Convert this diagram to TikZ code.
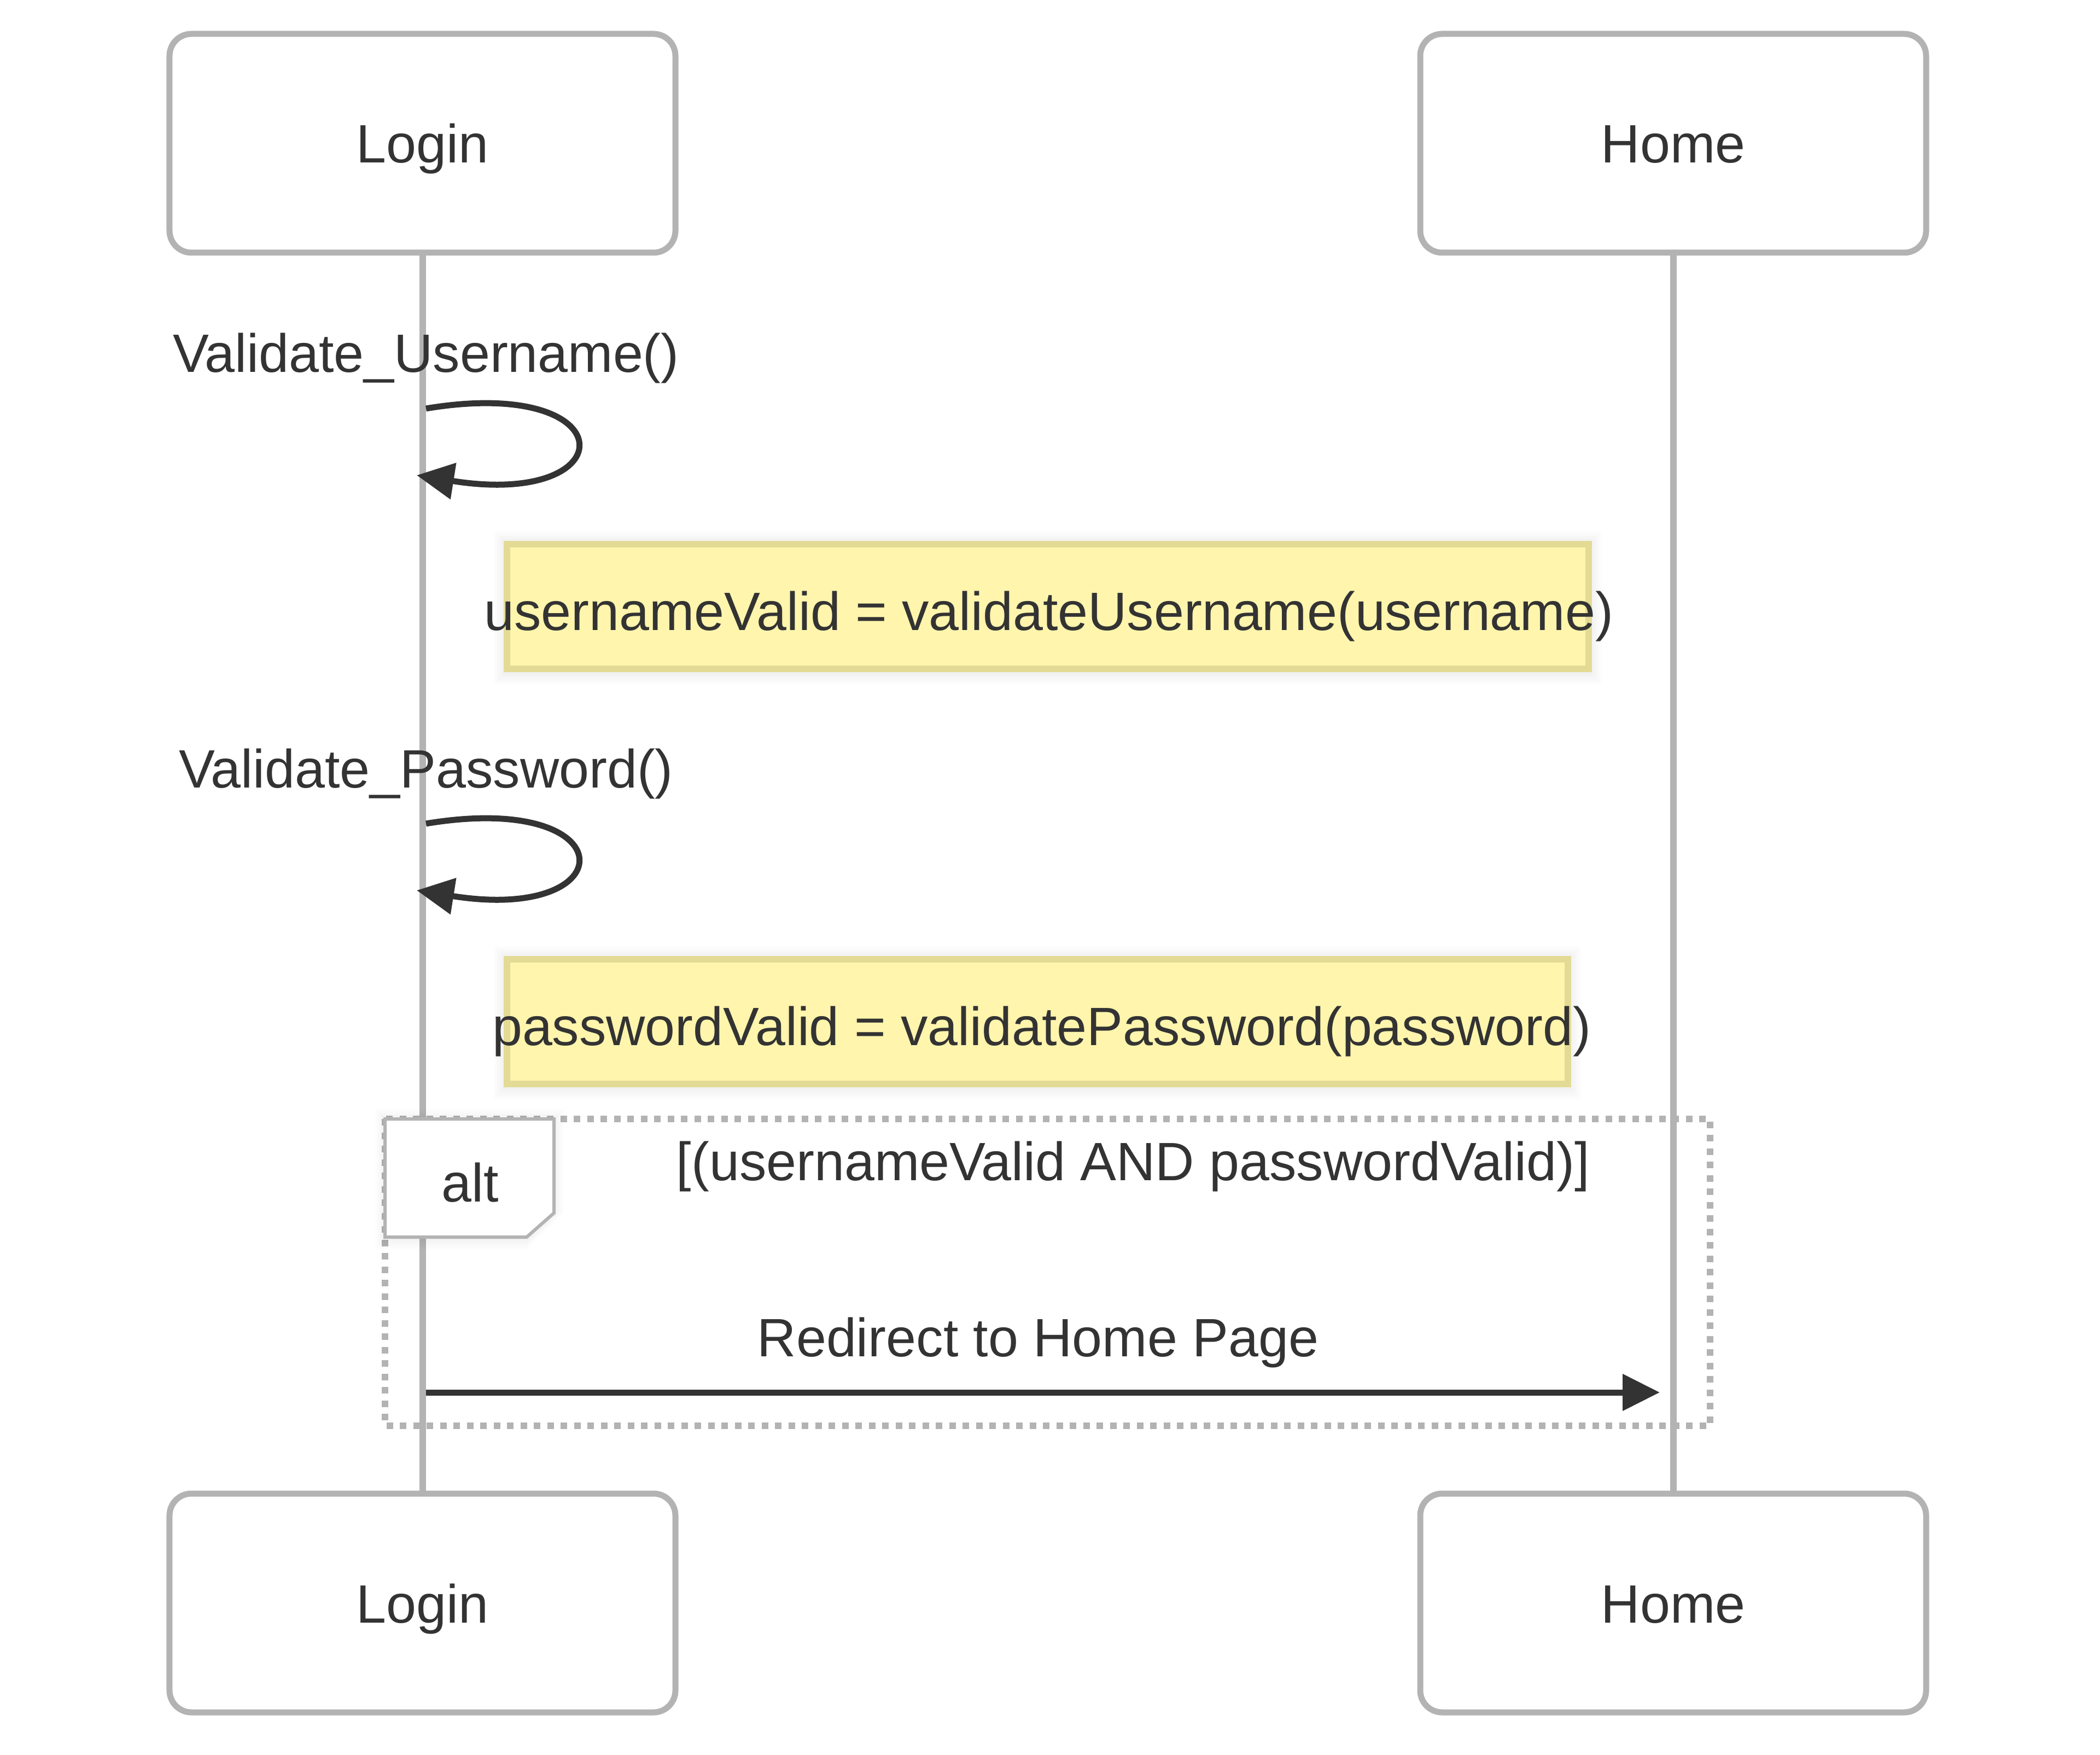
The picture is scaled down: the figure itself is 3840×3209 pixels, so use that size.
\documentclass[tikz,border=0pt]{standalone}
\usepackage{fontspec}
\setmainfont{Liberation Sans}
\usetikzlibrary{arrows.meta}
\definecolor{ink}{HTML}{333333}
\definecolor{rule}{HTML}{B3B3B3}
\definecolor{notefill}{HTML}{FFF5AD}
\definecolor{noteline}{HTML}{E3DB95}
\begin{document}
\begin{tikzpicture}[x=0.2pt,y=0.2pt,
  txt/.style={font=\fontsize{19.75pt}{24pt}\selectfont, text=ink, inner sep=0pt, anchor=base},
  actorbox/.style={draw=rule, line width=2.2pt, rounded corners=8pt, fill=white,
    minimum width=185pt, minimum height=80pt, inner sep=0pt,
    text height=14.4pt, text depth=0pt, font=\fontsize{19.75pt}{24pt}\selectfont, text=ink},
  lifeline/.style={draw=rule, line width=2.4pt},
  notebox/.style={draw=noteline, fill=notefill, line width=2.4pt},
  altframe/.style={draw=rule, line width=2.4pt, dash pattern=on 2.4pt off 2.5pt},
  altlabel/.style={draw=rule, fill=white, line width=1.2pt},
  msg/.style={draw=ink, line width=2.2pt, -{Triangle[length=13.6pt,width=13pt]}}]

\fill[white] (0,0) rectangle (3840,-3209);
\useasboundingbox (0,0) rectangle (3840,-3209);

% participants
\node[actorbox] (loginTop) at (772.5,-262) {Login};
\node[actorbox] (homeTop)  at (3059.5,-262) {Home};
\node[actorbox] (loginBot) at (772.5,-2931) {Login};
\node[actorbox] (homeBot)  at (3059.5,-2931) {Home};

% alt fragment frame (under the lifelines)
\draw[altframe] (704,-2046) rectangle (3127,-2607);

% lifelines
\draw[lifeline] (loginTop.south) -- (loginBot.north);
\draw[lifeline] (homeTop.south) -- (homeBot.north);

% first self call
\node[txt] (callU) at (779,-681) {Validate\_Username()};
\coordinate (u1s) at (779,-747);
\coordinate (u1e) at (762,-869);
\draw[msg] (u1s) .. controls (1145,-686) and (1145,-930) .. (u1e);

% first note, with a soft shadow
\foreach \k in {3,6,...,24}
  \fill[black, opacity=0.008] ({927-\k},{-995+\k}) rectangle ({2905+\k},{-1223-\k-4});
\node[notebox, minimum width=395.6pt, minimum height=45.6pt, inner sep=0pt] (noteU) at (1916,-1109) {};
\node[txt] (noteUt) at (1918,-1152) {usernameValid = validateUsername(username)};

% second self call
\node[txt] (callP) at (779,-1440) {Validate\_Password()};
\coordinate (p1s) at (779,-1506);
\coordinate (p1e) at (762,-1628);
\draw[msg] (p1s) .. controls (1145,-1445) and (1145,-1689) .. (p1e);

% second note
\foreach \k in {3,6,...,24}
  \fill[black, opacity=0.008] ({927-\k},{-1754+\k}) rectangle ({2867+\k},{-1982-\k-4});
\node[notebox, minimum width=388pt, minimum height=45.6pt, inner sep=0pt] (noteP) at (1897,-1868) {};
\node[txt] (notePt) at (1905,-1911) {passwordValid = validatePassword(password)};

% alt label tab
\foreach \k in {3,6,...,18}
  \fill[black, opacity=0.008] ({704-\k},{-2046+\k}) -- ({1013+\k},{-2046+\k}) -- ({1013+\k},{-2218}) -- ({963},{-2262-\k-4}) -- ({704-\k},{-2262-\k-4}) -- cycle;
\path[altlabel] (704,-2046) -- (1013,-2046) -- (1013,-2218) -- (963,-2262) -- (704,-2262) -- cycle;
\node[txt] (altT) at (860,-2197) {alt};
\node[txt] (altCond) at (2072,-2158) {[(usernameValid AND passwordValid)]};

% redirect message
\node[txt] (redirT) at (1898,-2480) {Redirect to Home Page};
\coordinate (r1s) at (779,-2546);
\coordinate (r1e) at (3035,-2546);
\draw[msg] (r1s) -- (r1e);
\end{tikzpicture}
\end{document}
